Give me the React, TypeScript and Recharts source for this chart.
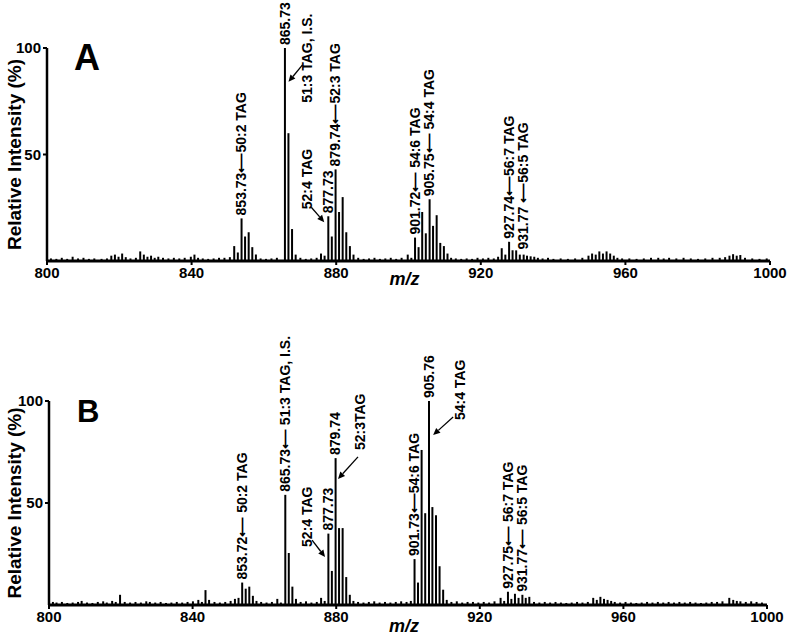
import React from 'react';
import { ComposedChart, Bar, XAxis, YAxis, ReferenceDot } from 'recharts';

const FONT = '"Liberation Sans", Arial, Helvetica, sans-serif';

// ---------- axis ticks ----------
const xTicks = [800, 840, 880, 920, 960, 1000];
const yTicks = [50, 100];

// ---------- Panel A : peaks ----------
const peakMzA = [851.7, 852.7, 853.73, 854.7, 855.7, 856.7, 857.7, 865.73, 866.7, 867.7, 868.7, 875.7, 876.7, 877.73, 878.7, 879.74, 880.7, 881.7, 882.7, 883.7, 884.7, 899.7, 901.72, 902.7, 903.7, 904.7, 905.75, 906.7, 907.7, 908.7, 909.7, 910.7, 911.7, 925.7, 926.7, 927.74, 928.7, 929.7, 930.7, 931.77, 932.7, 933.7, 934.7];
const peakIntA = [7, 4, 20, 11.5, 13.5, 6.5, 3, 100, 60, 15, 3, 3.5, 2.5, 21, 11.5, 43, 23, 30, 13.5, 7, 3, 3, 11, 6.5, 23, 13, 29, 16.5, 21.5, 8.5, 7, 3.5, 1.5, 6, 3, 9, 5, 5, 3, 3, 2.5, 2.2, 2];

// ---------- Panel A : baseline noise ----------
const noiseMzA = [801, 802.5, 804, 805.5, 807, 808.5, 810, 811.5, 813, 815, 816.5, 817.7, 818.7, 819.7, 820.7, 821.7, 823, 824.5, 825.7, 826.7, 827.7, 828.7, 829.7, 830.7, 832, 833.5, 835, 836.5, 838, 839.7, 840.7, 841.7, 843, 844.5, 846, 847.5, 849, 850.5, 859, 860.5, 862, 863.5, 870, 871.5, 873, 874.5, 886, 887.5, 889, 890.5, 892, 893.5, 895, 896.5, 898, 900.7, 913, 914.5, 916, 917.5, 919, 920.5, 922, 923.5, 924.7, 935.7, 937, 938.5, 940, 942, 944, 946, 948, 949.7, 950.7, 951.7, 952.7, 953.7, 954.7, 955.7, 956.7, 957.7, 959, 961, 963, 965, 967, 969, 970.5, 972, 974, 976, 978, 980, 982, 984, 986, 987.5, 988.7, 989.7, 990.7, 991.7, 993, 995, 997, 999];
const noiseIntA = [1.2, 1.0, 1.5, 1.0, 2.0, 1.2, 1.5, 1.0, 1.2, 1.0, 1.2, 2.5, 3.0, 2.0, 3.5, 1.8, 1.2, 1.5, 4.5, 3.0, 2.0, 2.5, 1.5, 2.0, 1.5, 1.2, 1.5, 1.2, 1.5, 2.0, 3.0, 1.5, 1.2, 1.0, 1.2, 1.5, 1.5, 1.8, 1.2, 1.0, 1.2, 1.5, 1.5, 1.0, 1.2, 1.5, 1.5, 1.0, 1.2, 1.5, 1.0, 1.2, 1.5, 1.0, 1.5, 1.5, 1.2, 1.0, 1.2, 1.0, 1.5, 1.2, 1.5, 1.2, 2.0, 1.5, 1.2, 1.5, 1.0, 1.2, 1.0, 1.2, 1.5, 2.5, 3.5, 3.0, 4.5, 3.5, 4.5, 3.5, 2.5, 1.5, 1.2, 1.2, 1.0, 1.2, 1.5, 1.5, 1.2, 1.5, 1.2, 1.5, 1.2, 1.0, 1.2, 1.5, 1.5, 1.8, 2.5, 3.2, 2.5, 2.8, 1.5, 1.2, 1.0, 1.2];

// ---------- Panel B : peaks ----------
const peakMzB = [843.5, 844.5, 851.7, 852.7, 853.72, 854.7, 855.7, 856.7, 857.7, 863.5, 865.73, 866.7, 867.7, 868.7, 875.7, 876.7, 877.73, 878.7, 879.74, 880.7, 881.7, 882.7, 883.7, 884.7, 901.73, 902.7, 903.7, 904.7, 905.76, 906.7, 907.7, 908.7, 909.7, 910.7, 925.7, 926.7, 927.75, 928.7, 929.7, 930.7, 931.77, 932.7, 933.7];
const peakIntB = [7.3, 2.5, 3, 3.5, 11, 8, 9, 4.5, 2, 3, 54, 25.5, 9, 3, 3.5, 2, 35, 16.7, 72, 37.7, 37.7, 13.7, 5, 2, 22.5, 11, 76, 45, 100, 48, 44, 19, 7.5, 2.5, 3.5, 2, 6.5, 3, 5.5, 3.5, 5, 3.5, 4];

// ---------- Panel B : baseline noise ----------
const noiseMzB = [801, 802, 803.5, 805, 806.5, 808, 809, 810.5, 812, 813.5, 815, 816, 817.5, 818.5, 819.7, 821, 822.5, 824, 825.5, 827, 828, 829.5, 831, 832.5, 834, 835.5, 837, 838.5, 840, 841.5, 842.5, 846, 847.5, 849, 850.5, 859, 860.5, 862, 864.5, 870, 871.5, 873, 874.5, 886, 887.5, 889, 890.5, 892, 893.5, 895, 896.5, 898, 899.5, 900.7, 912, 913.5, 915, 916.5, 918, 919.5, 921, 922.5, 924, 935, 936.5, 938, 939.5, 941, 942.5, 944, 945.5, 947, 948.5, 950, 951.5, 952.5, 953.5, 954.5, 955.5, 956.5, 957.5, 959, 960.5, 962, 963.5, 965, 966.5, 968, 969.5, 971, 972.5, 974, 975.5, 977, 978.5, 980, 981.5, 983, 984.5, 986, 987.5, 989.4, 990.5, 991.5, 992.5, 994, 995.5, 997, 998.5];
const noiseIntB = [1.5, 1.2, 1.5, 1.0, 1.2, 1.5, 2.0, 1.2, 1.0, 1.5, 1.8, 1.2, 2.0, 1.5, 5.0, 1.5, 1.2, 1.5, 1.2, 1.8, 1.5, 1.2, 1.5, 1.0, 1.2, 1.5, 1.2, 1.5, 1.8, 2.5, 1.5, 1.5, 1.2, 1.5, 2.0, 1.5, 1.2, 1.5, 1.2, 1.5, 1.8, 1.2, 1.5, 1.5, 1.2, 1.5, 1.8, 1.2, 1.5, 1.2, 1.5, 1.8, 1.5, 2.0, 1.5, 1.8, 1.2, 1.5, 1.5, 1.2, 1.5, 1.2, 1.8, 1.5, 1.2, 1.5, 1.2, 1.5, 1.2, 1.0, 1.2, 1.5, 1.2, 1.5, 3.5, 2.5, 4.0, 3.0, 2.5, 2.0, 1.5, 1.2, 1.5, 1.2, 1.0, 1.2, 1.5, 1.2, 1.5, 1.2, 1.5, 1.2, 1.5, 1.2, 1.5, 1.2, 1.0, 1.2, 1.5, 1.5, 1.8, 3.5, 2.5, 2.0, 1.8, 1.5, 1.8, 1.5, 1.2];

// ---------- annotations (anchored at m/z, intensity) ----------
const labelsA = [
  { mz: 853.73, at: 20, text: '853.73\u27F550:2 TAG' },
  { mz: 865.73, at: 100, text: '865.73' },
  { mz: 872.0, at: 72.9, text: '51:3 TAG, I.S.' },
  { mz: 879.74, at: 43, text: '879.74\u27F552:3 TAG' },
  { mz: 877.73, at: 21, text: '877.73' },
  { mz: 872.0, at: 22.9, text: '52:4 TAG' },
  { mz: 901.72, at: 11, text: '901.72\u27F5 54:6 TAG' },
  { mz: 905.75, at: 29, text: '905.75\u27F5 54:4 TAG' },
  { mz: 927.74, at: 9, text: '927.74\u27F556:7 TAG' },
  { mz: 931.77, at: 4, text: '931.77 \u27F556:5 TAG' },
];
const arrowsA = [
  { mz: 866.8, at: 84.1, dx: 14, dy: -17 },
  { mz: 876.7, at: 18.2, dx: -13, dy: -15 },
];

const labelsB = [
  { mz: 853.72, at: 11, text: '853.72\u27F5 50:2 TAG' },
  { mz: 865.73, at: 54, text: '865.73\u27F5 51:3 TAG, I.S.' },
  { mz: 879.74, at: 72, text: '879.74' },
  { mz: 886.6, at: 74.5, text: '52:3TAG' },
  { mz: 877.73, at: 35, text: '877.73' },
  { mz: 871.9, at: 27, text: '52:4 TAG' },
  { mz: 901.73, at: 22.5, text: '901.73\u27F554:6 TAG' },
  { mz: 905.76, at: 100, text: '905.76' },
  { mz: 914.5, at: 89.2, text: '54:4 TAG' },
  { mz: 927.75, at: 6.5, text: '927.75\u27F5 56:7 TAG' },
  { mz: 931.77, at: 5, text: '931.77\u27F5 56:5 TAG' },
];
const arrowsB = [
  { mz: 880.5, at: 61.8, dx: 20, dy: -22 },
  { mz: 876.9, at: 23.5, dx: -13, dy: -17 },
  { mz: 907.0, at: 83.3, dx: 20, dy: -18 },
];

function buildData(pm: number[], pi: number[], nm: number[], ni: number[]) {
  const rows = pm.map((mz, i) => ({ mz, intensity: pi[i] }));
  nm.forEach((mz, i) => rows.push({ mz, intensity: ni[i] }));
  rows.sort((a, b) => a.mz - b.mz);
  return rows;
}

const dataA = buildData(peakMzA, peakIntA, noiseMzA, noiseIntA);
const dataB = buildData(peakMzB, peakIntB, noiseMzB, noiseIntB);

function RotLabel(props: any) {
  const { cx, cy, text } = props;
  if (cx == null || cy == null) return null;
  const y = cy - 3;
  return (
    <text
      x={cx}
      y={y}
      dy="0.36em"
      transform={`rotate(-90 ${cx} ${y})`}
      textAnchor="start"
      fontFamily={FONT}
      fontWeight={700}
      fontSize={14}
      fill="#000"
    >
      {text}
    </text>
  );
}

function ArrowShape(props: any) {
  const { cx, cy, dx, dy } = props;
  if (cx == null || cy == null) return null;
  const tx = cx + dx;
  const ty = cy + dy;
  const ang = Math.atan2(cy - ty, cx - tx);
  const L = 7;
  const W = 3.2;
  const bx = cx - L * Math.cos(ang);
  const by = cy - L * Math.sin(ang);
  const p1x = bx + W * Math.sin(ang);
  const p1y = by - W * Math.cos(ang);
  const p2x = bx - W * Math.sin(ang);
  const p2y = by + W * Math.cos(ang);
  return (
    <g>
      <line x1={tx} y1={ty} x2={bx} y2={by} stroke="#000" strokeWidth={1.3} />
      <polygon points={`${cx},${cy} ${p1x},${p1y} ${p2x},${p2y}`} fill="#000" />
    </g>
  );
}

type PanelProps = {
  data: any[];
  labels: any[];
  arrows: any[];
  letter: string;
  letterX: number;
  letterY: number;
  letterSize: number;
  margin: any;
  yAxisWidth: number;
  mzDy: number;
};

function Panel(p: PanelProps) {
  const tickStyle = { fill: '#000', fontSize: 15, fontWeight: 700, fontFamily: FONT };
  return (
    <ComposedChart width={790} height={319} data={p.data} margin={p.margin}>
      <XAxis
        dataKey="mz"
        type="number"
        domain={[800, 1000]}
        ticks={xTicks}
        interval={0}
        allowDataOverflow
        height={30}
        tick={tickStyle}
        tickSize={4}
        tickLine={{ stroke: '#000', strokeWidth: 2 }}
        axisLine={{ stroke: '#000', strokeWidth: 3 }}
        label={(lp: any) => {
          const vb = lp && lp.viewBox;
          if (!vb) return null;
          return (
            <text
              x={vb.x + vb.width / 2 - 4}
              y={vb.y + p.mzDy}
              textAnchor="middle"
              fontFamily={FONT}
              fontStyle="italic"
              fontWeight={700}
              fontSize={18}
              fill="#000"
            >
              m/z
            </text>
          );
        }}
      />
      <YAxis
        type="number"
        domain={[0, 100]}
        ticks={yTicks}
        interval={0}
        width={p.yAxisWidth}
        tick={tickStyle}
        tickSize={4}
        tickLine={{ stroke: '#000', strokeWidth: 2 }}
        axisLine={{ stroke: '#000', strokeWidth: 2.5 }}
        label={(lp: any) => {
          const vb = lp && lp.viewBox;
          if (!vb) return null;
          const tx = vb.x + 6;
          const ty = vb.y + vb.height / 2;
          return (
            <g>
              <text
                x={tx}
                y={ty}
                dy="0.36em"
                transform={`rotate(-90 ${tx} ${ty})`}
                textAnchor="middle"
                fontFamily={FONT}
                fontWeight={700}
                fontSize={19}
                fill="#000"
              >
                Relative Intensity (%)
              </text>
              <text
                x={p.letterX}
                y={p.letterY}
                fontFamily={FONT}
                fontWeight={700}
                fontSize={p.letterSize}
                fill="#000"
              >
                {p.letter}
              </text>
            </g>
          );
        }}
      />
      <Bar dataKey="intensity" fill="#000" barSize={2} isAnimationActive={false} />
      {p.labels.map((l, i) => (
        <ReferenceDot
          key={'l' + i}
          x={l.mz}
          y={l.at}
          ifOverflow="visible"
          shape={(sp: any) => <RotLabel cx={sp.cx} cy={sp.cy} text={l.text} />}
        />
      ))}
      {p.arrows.map((a, i) => (
        <ReferenceDot
          key={'a' + i}
          x={a.mz}
          y={a.at}
          ifOverflow="visible"
          shape={(sp: any) => <ArrowShape cx={sp.cx} cy={sp.cy} dx={a.dx} dy={a.dy} />}
        />
      ))}
    </ComposedChart>
  );
}

export default function App() {
  return (
    <div style={{ position: 'absolute', left: 0, top: 0, width: 790, height: 638, background: '#fff' }}>
      <Panel
        data={dataA}
        labels={labelsA}
        arrows={arrowsA}
        letter="A"
        letterX={74}
        letterY={70}
        letterSize={36}
        margin={{ top: 48, right: 20, bottom: 28, left: 8 }}
        yAxisWidth={39}
        mzDy={24}
      />
      <Panel
        data={dataB}
        labels={labelsB}
        arrows={arrowsB}
        letter="B"
        letterX={77}
        letterY={103}
        letterSize={31}
        margin={{ top: 82, right: 23, bottom: 3, left: 8 }}
        yAxisWidth={41}
        mzDy={27}
      />
    </div>
  );
}
